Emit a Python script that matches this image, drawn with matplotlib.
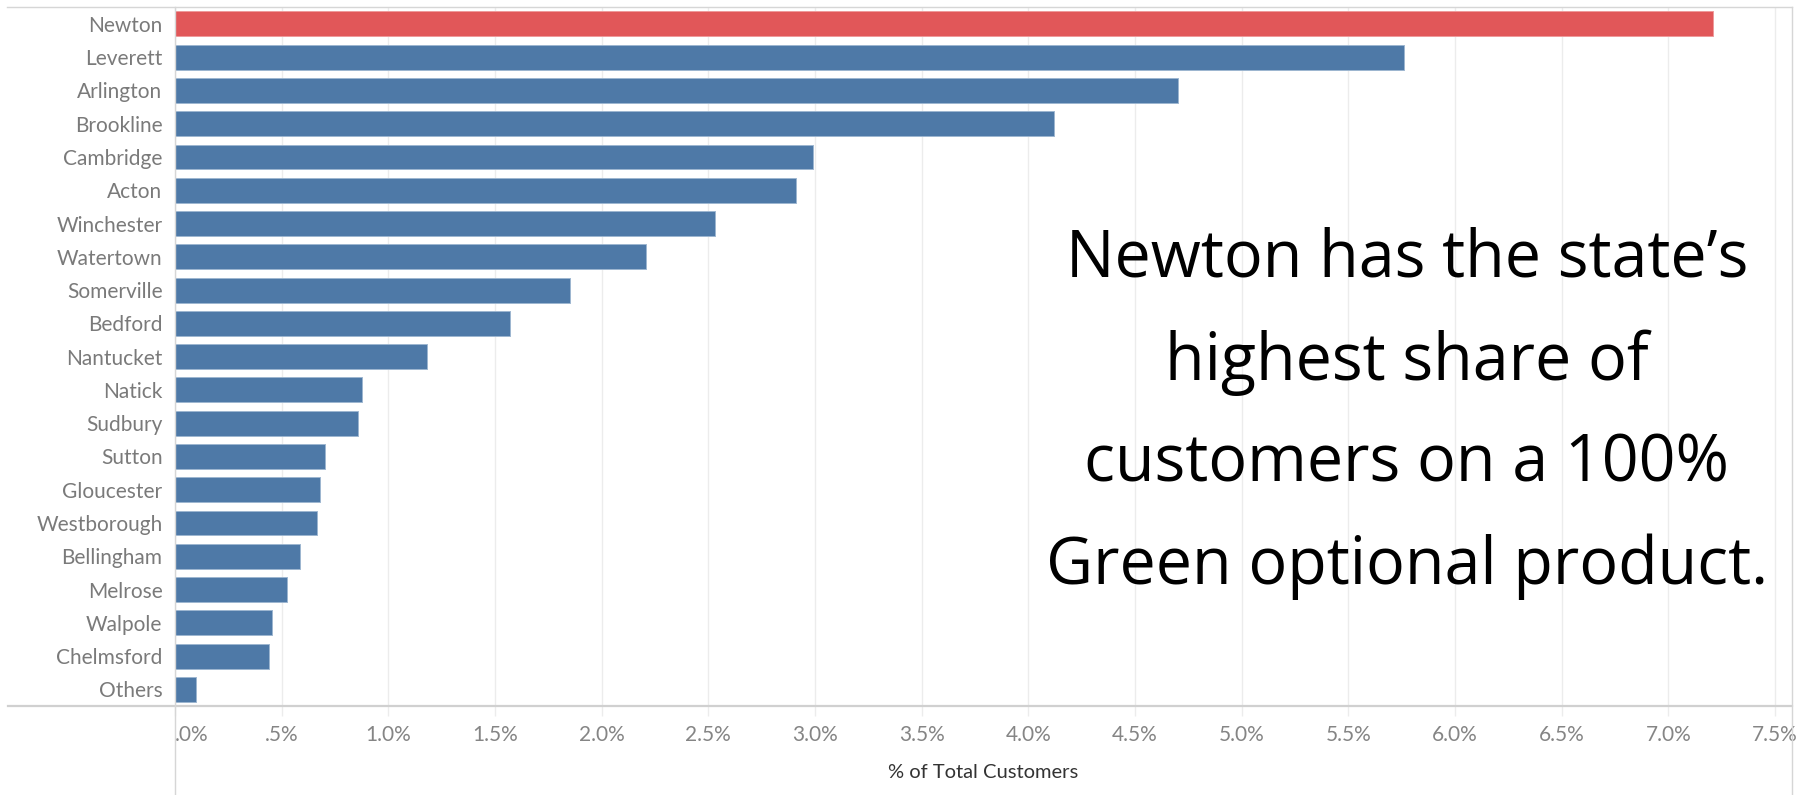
import matplotlib.pyplot as plt
from matplotlib.lines import Line2D

# % of total customers on a 100% Green optional product, by town
towns = ['Newton', 'Leverett', 'Arlington', 'Brookline', 'Cambridge', 'Acton',
         'Winchester', 'Watertown', 'Somerville', 'Bedford', 'Nantucket', 'Natick',
         'Sudbury', 'Sutton', 'Gloucester', 'Westborough', 'Bellingham', 'Melrose',
         'Walpole', 'Chelmsford', 'Others']
share = [7.21, 5.76, 4.70, 4.12, 2.99, 2.91, 2.53, 2.21, 1.85, 1.57, 1.18, 0.875,
         0.86, 0.705, 0.68, 0.666, 0.588, 0.525, 0.456, 0.439, 0.098]
highlight = 'Newton'

tick_values = [0, 0.5, 1.0, 1.5, 2.0, 2.5, 3.0, 3.5, 4.0, 4.5, 5.0, 5.5, 6.0, 6.5, 7.0, 7.5]
tick_labels = ['.0%', '.5%', '1.0%', '1.5%', '2.0%', '2.5%', '3.0%', '3.5%', '4.0%',
               '4.5%', '5.0%', '5.5%', '6.0%', '6.5%', '7.0%', '7.5%']

note_lines = ['Newton has the state\u2019s', 'highest share of',
              'customers on a 100%', 'Green optional product.']

W, H = 1805, 795
left_px, right_px, top_px, bottom_px = 175, 1792, 7.3, 706

plt.rcParams['font.family'] = ['Lato', 'DejaVu Sans']
fig = plt.figure(figsize=(W / 100, H / 100), dpi=100)
ax = fig.add_axes([left_px / W, 1 - bottom_px / H,
                   (right_px - left_px) / W, (bottom_px - top_px) / H])

colors = ['#e15759' if t == highlight else '#4e79a7' for t in towns]
edges = ['#ee9a9b' if t == highlight else '#9db6d0' for t in towns]
ax.barh(towns, share, height=0.75, color=colors, edgecolor=edges, linewidth=0.7, zorder=3)

ax.set_ylim(len(towns) - 0.5, -0.5)
ax.set_xlim(0, 7.58)

ax.set_xticks(tick_values, tick_labels)
ax.xaxis.grid(True, color='#ececec', linewidth=1.0, zorder=0)
ax.set_axisbelow(True)
ax.tick_params(axis='x', length=7, width=1.0, color='#ececec', pad=7,
               labelsize=15, labelcolor='#858585')
ax.get_xticklabels()[0].set_horizontalalignment('left')
ax.tick_params(axis='y', length=0, pad=9, labelsize=15, labelcolor='#7a7a7a')

for s in ax.spines.values():
    s.set_visible(False)

# frame lines in the Tableau style
line_c = '#d6d6d6'
fig.add_artist(Line2D([7 / W, right_px / W], [1 - top_px / H] * 2, color=line_c, lw=1.0))
fig.add_artist(Line2D([8 / W, right_px / W], [1 - bottom_px / H] * 2, color='#d0d0d0', lw=1.6))
fig.add_artist(Line2D([left_px / W] * 2, [1 - top_px / H, 0], color=line_c, lw=1.0))
fig.add_artist(Line2D([right_px / W] * 2, [1 - top_px / H, 0], color=line_c, lw=1.0))

fig.text((left_px + right_px) / 2 / W, 1 - 772 / H, '% of Total Customers',
         ha='center', va='center', fontsize=14.5, color='#333333')

baselines = [277, 380, 482, 584]
for line, b in zip(note_lines, baselines):
    fig.text(1407 / W, 1 - b / H, line, ha='center', va='baseline',
             fontsize=46.5, color='black', family=['Open Sans', 'DejaVu Sans'])

fig.savefig('out.png', dpi=100, facecolor='white')
